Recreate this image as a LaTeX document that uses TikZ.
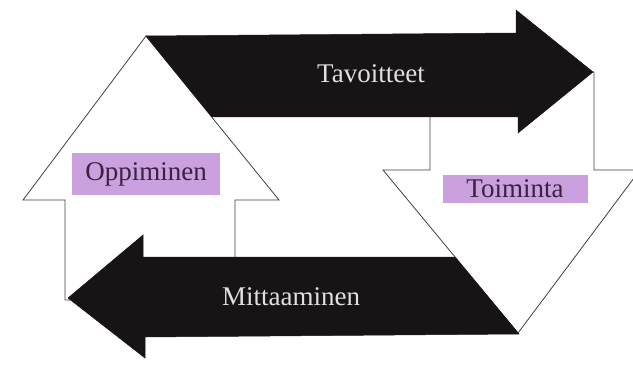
\documentclass[tikz,border=0pt]{standalone}
\usepackage{fontspec}
\setmainfont{Liberation Serif}
\usetikzlibrary{positioning}
\definecolor{arrowblack}{RGB}{24,20,22}
\definecolor{marker}{RGB}{203,160,222}
\definecolor{inkpurple}{RGB}{58,34,66}

\begin{document}
\begin{tikzpicture}[
    x=1pt, y=-1pt,
    whitearr/.style={fill=white, draw=black!75, line width=0.8pt},
    blackarr/.style={fill=arrowblack, draw=arrowblack, line width=0.5pt},
    onblack/.style={font=\fontsize{27}{32}\selectfont, text=white!88!black},
    hilite/.style={fill=marker, font=\fontsize{27}{32}\selectfont, text=inkpurple, inner sep=0pt}
]
\useasboundingbox (0,0) rectangle (633,369);
\clip (0,0) rectangle (633,369);

% White arrows (up on the left, down on the right)
\draw[whitearr] (146,36) -- (279,200) -- (235,200) -- (235,300) -- (65,300) -- (65,200) -- (23,200) -- cycle;
\draw[whitearr] (430,72) -- (594,72) -- (594,170) -- (640,170) -- (518,333) -- (383,170) -- (430,170) -- cycle;

% Black arrows, cut along the slopes of the white ones
\fill[blackarr] (146,36) -- (516,33) -- (516,10) -- (593,72) -- (518,133) -- (518,117) -- (212,117) -- cycle;
\fill[blackarr] (68,298) -- (143,235) -- (143,257) -- (455,257) -- (519,334) -- (145,337) -- (145,358) -- cycle;

% Labels
\node[onblack] (tavoitteet) at (371,74) {Tavoitteet};
\node[onblack] (mittaaminen) at (291,297) {Mittaaminen};
\node[hilite, minimum width=148pt, minimum height=42pt] (oppiminen) at (146,174) {Oppiminen};
\node[hilite, minimum width=145pt, minimum height=28pt] (toiminta) at (515,189) {Toiminta};
\end{tikzpicture}
\end{document}
